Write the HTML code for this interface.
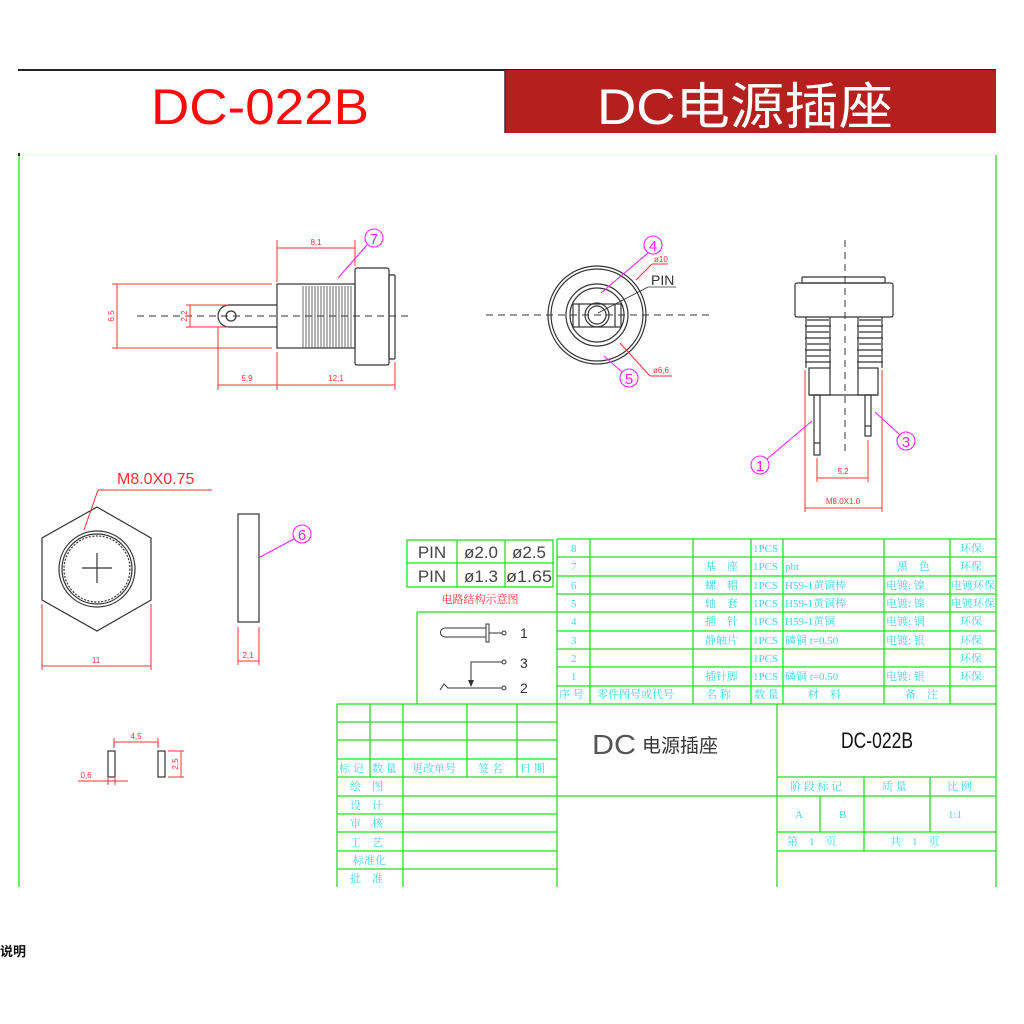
<!DOCTYPE html>
<html><head><meta charset="utf-8"><style>
html,body{margin:0;padding:0;background:#fff;}
svg{display:block}
.g{stroke:#22e022;stroke-width:1.3;fill:none}
.k{stroke:#333;stroke-width:1.2;fill:none}
.r{stroke:#ff3030;stroke-width:1;fill:none}
.m{stroke:#ff22ff;stroke-width:1.1;fill:none}
.c{fill:#3fd8e0;font-family:"Liberation Serif","Noto Serif CJK SC",serif;font-size:11px}
.rt{fill:#ff3030;font-family:"Liberation Sans",sans-serif;font-size:8px}
.mt{fill:#ff22ff;font-family:"Liberation Sans",sans-serif;font-size:15px}
</style></head><body>
<svg width="1024" height="1024" viewBox="0 0 1024 1024" xmlns="http://www.w3.org/2000/svg">
<!-- header -->
<line x1="18" y1="70" x2="996" y2="70" stroke="#222" stroke-width="2"/>
<rect x="505" y="70" width="491" height="63" fill="#b5201f"/>
<line x1="505" y1="70" x2="505" y2="133" stroke="#333" stroke-width="1.5"/>
<text x="260" y="124" text-anchor="middle" fill="#ff0a0a" font-family="Liberation Sans,sans-serif" font-size="50" textLength="218" lengthAdjust="spacingAndGlyphs">DC-022B</text>
<text x="745" y="124" text-anchor="middle" fill="#fff" font-family="Liberation Sans,'Noto Sans CJK SC',sans-serif" font-size="50" textLength="296" lengthAdjust="spacingAndGlyphs">DC电源插座</text>
<!-- frame -->
<line x1="19" y1="155" x2="996" y2="155" stroke="#dfffdf" stroke-width="1"/>
<line x1="19" y1="155" x2="19" y2="887" class="g"/>
<line x1="996" y1="155" x2="996" y2="887" class="g"/>
<rect x="18" y="153" width="2" height="3" fill="#222"/>

<!-- side view -->
<line x1="137" y1="316" x2="412" y2="316" stroke="#333" stroke-width="1" stroke-dasharray="7,5"/>
<path class="k" d="M277 305 H229 A11 11 0 0 0 229 327 H277"/>
<circle class="k" cx="231" cy="316" r="5"/>
<rect class="k" x="277" y="284" width="78" height="64"/>
<g stroke="#444" stroke-width="0.8">
<line x1="303" y1="286" x2="303" y2="348"/><line x1="306" y1="286" x2="306" y2="348"/><line x1="309" y1="286" x2="309" y2="348"/><line x1="312" y1="286" x2="312" y2="348"/><line x1="315" y1="286" x2="315" y2="348"/><line x1="318" y1="286" x2="318" y2="348"/><line x1="321" y1="286" x2="321" y2="348"/><line x1="324" y1="286" x2="324" y2="348"/><line x1="327" y1="286" x2="327" y2="348"/><line x1="330" y1="286" x2="330" y2="348"/><line x1="333" y1="286" x2="333" y2="348"/><line x1="336" y1="286" x2="336" y2="348"/><line x1="339" y1="286" x2="339" y2="348"/><line x1="342" y1="286" x2="342" y2="348"/><line x1="345" y1="286" x2="345" y2="348"/><line x1="348" y1="286" x2="348" y2="348"/><line x1="351" y1="286" x2="351" y2="348"/>
</g>
<rect class="k" x="355" y="268" width="34" height="97" rx="2"/>
<rect class="k" x="389" y="275" width="6" height="84" rx="1"/>
<g class="r">
<line x1="277" y1="240" x2="277" y2="282"/><line x1="355" y1="240" x2="355" y2="266"/><line x1="277" y1="248" x2="355" y2="248"/>
<line x1="112" y1="284" x2="272" y2="284"/><line x1="112" y1="348" x2="272" y2="348"/><line x1="117" y1="284" x2="117" y2="348"/>
<line x1="186" y1="305" x2="228" y2="305"/><line x1="186" y1="327" x2="228" y2="327"/><line x1="190" y1="305" x2="190" y2="327"/>
<line x1="218" y1="327" x2="218" y2="390"/><line x1="277" y1="352" x2="277" y2="390"/><line x1="395" y1="362" x2="395" y2="390"/>
<line x1="218" y1="385" x2="395" y2="385"/>
</g>
<text class="rt" x="316" y="245" text-anchor="middle">8,1</text>
<text class="rt" x="114" y="316" text-anchor="middle" transform="rotate(-90 114 316)">6,5</text>
<text class="rt" x="187" y="316" text-anchor="middle" transform="rotate(-90 187 316)">2,2</text>
<text class="rt" x="247" y="381" text-anchor="middle">5,9</text>
<text class="rt" x="336" y="381" text-anchor="middle">12,1</text>
<circle class="m" cx="374" cy="238" r="9"/><text class="mt" x="374" y="244" text-anchor="middle">7</text>
<line class="m" x1="367" y1="245" x2="338" y2="278"/>

<!-- front view -->
<line x1="486" y1="315" x2="710" y2="315" stroke="#333" stroke-width="1" stroke-dasharray="7,5"/>
<circle class="k" cx="597" cy="315" r="49"/><circle class="k" cx="597" cy="315" r="46"/>
<circle class="k" cx="597" cy="315" r="31"/><circle class="k" cx="597" cy="315" r="27"/>
<rect class="k" x="573" y="304" width="48" height="23"/>
<line class="k" x1="579" y1="304" x2="579" y2="327"/><line class="k" x1="615" y1="304" x2="615" y2="327"/>
<circle class="k" cx="597" cy="315" r="12"/><circle class="k" cx="597" cy="315" r="9"/>
<line x1="598" y1="313" x2="648" y2="287" stroke="#333" stroke-width="0.8"/><line x1="648" y1="287" x2="676" y2="287" stroke="#333" stroke-width="0.8"/>
<text x="651" y="285" font-family="Liberation Sans,sans-serif" font-size="14" fill="#333">PIN</text>
<line class="r" x1="636" y1="280" x2="652" y2="264"/><line class="r" x1="652" y1="264" x2="668" y2="264"/>
<text class="rt" x="654" y="262" font-size="7">ø10</text>
<line class="r" x1="620" y1="343" x2="650" y2="376"/><line class="r" x1="650" y1="376" x2="672" y2="376"/>
<text class="rt" x="653" y="373">ø6,6</text>
<circle class="m" cx="653" cy="245" r="9"/><text class="mt" x="653" y="251" text-anchor="middle">4</text>
<line class="m" x1="648" y1="253" x2="601" y2="293"/>
<circle class="m" cx="629" cy="378" r="9"/><text class="mt" x="629" y="384" text-anchor="middle">5</text>
<line class="m" x1="622" y1="372" x2="604" y2="356"/>

<!-- right view -->
<line x1="845" y1="240" x2="845" y2="455" stroke="#333" stroke-width="1" stroke-dasharray="7,5"/>
<rect class="k" x="802" y="277" width="83" height="6" rx="1"/>
<rect class="k" x="795" y="283" width="98" height="34" rx="2"/>
<g class="k" stroke-width="1.5">
<path d="M807 320 h22 M805 326 h26 M807 332 h22 M805 338 h26 M807 344 h22 M805 350 h26 M807 356 h22 M805 362 h26"/>
<path d="M859 320 h22 M857 326 h26 M859 332 h22 M857 338 h26 M859 344 h22 M857 350 h26 M859 356 h22 M857 362 h26"/>
</g>
<line class="k" x1="806" y1="317" x2="806" y2="368"/><line class="k" x1="830" y1="317" x2="830" y2="368"/>
<line class="k" x1="858" y1="317" x2="858" y2="368"/><line class="k" x1="882" y1="317" x2="882" y2="368"/>
<rect class="k" x="809" y="368" width="21" height="27"/><rect class="k" x="858" y="368" width="20" height="27"/>
<line class="k" x1="809" y1="395" x2="878" y2="395"/>
<rect class="k" x="814" y="395" width="6" height="60"/><line class="k" x1="814" y1="443" x2="820" y2="443"/>
<rect class="k" x="865" y="395" width="6" height="41"/><line class="k" x1="865" y1="426" x2="871" y2="426"/>
<g class="r">
<line x1="805" y1="370" x2="805" y2="512"/><line x1="882" y1="370" x2="882" y2="512"/><line x1="805" y1="508" x2="882" y2="508"/>
<line x1="817" y1="458" x2="817" y2="482"/><line x1="868" y1="440" x2="868" y2="482"/><line x1="817" y1="478" x2="868" y2="478"/>
</g>
<text class="rt" x="843" y="474" text-anchor="middle">5,2</text>
<text class="rt" x="843" y="504" text-anchor="middle" font-size="7">M8.0X1.0</text>
<circle class="m" cx="760" cy="465" r="9"/><text class="mt" x="760" y="471" text-anchor="middle">1</text>
<line class="m" x1="767" y1="459" x2="812" y2="421"/>
<circle class="m" cx="906" cy="441" r="9"/><text class="mt" x="906" y="447" text-anchor="middle">3</text>
<line class="m" x1="899" y1="434" x2="875" y2="412"/>

<!-- hex nut -->
<polygon class="k" points="97,507 151,538 151,600 97,631 42,600 42,538"/>
<circle class="k" cx="97" cy="569" r="38"/><circle class="k" cx="97" cy="569" r="35"/><circle class="k" cx="97" cy="569" r="33" stroke-dasharray="2,1.5"/>
<line class="k" x1="82" y1="568" x2="112" y2="568"/><line class="k" x1="97" y1="553" x2="97" y2="583"/>
<text x="117" y="484" fill="#ff3030" font-family="Liberation Sans,sans-serif" font-size="16">M8.0X0.75</text>
<polyline class="r" points="212,490 98,490 84,530"/>
<g class="r"><line x1="42" y1="604" x2="42" y2="670"/><line x1="151" y1="604" x2="151" y2="670"/><line x1="42" y1="666" x2="151" y2="666"/></g>
<text class="rt" x="96" y="663" text-anchor="middle">11</text>
<rect class="k" x="238" y="514" width="21" height="108"/>
<g class="r"><line x1="238" y1="627" x2="238" y2="665"/><line x1="259" y1="627" x2="259" y2="665"/><line x1="238" y1="661" x2="259" y2="661"/></g>
<text class="rt" x="248" y="658" text-anchor="middle">2,1</text>
<circle class="m" cx="302" cy="534" r="9"/><text class="mt" x="302" y="540" text-anchor="middle">6</text>
<line class="m" x1="294" y1="539" x2="260" y2="557"/>

<!-- pads -->
<rect class="k" x="108" y="751" width="7" height="26"/><rect class="k" x="158" y="751" width="7" height="26"/>
<g class="r"><line x1="114" y1="738" x2="114" y2="748"/><line x1="158" y1="738" x2="158" y2="748"/><line x1="114" y1="742" x2="158" y2="742"/>
<line x1="168" y1="751" x2="184" y2="751"/><line x1="168" y1="777" x2="184" y2="777"/><line x1="181" y1="751" x2="181" y2="777"/>
<line x1="78" y1="781" x2="128" y2="781"/><line x1="108" y1="778" x2="108" y2="785"/><line x1="115" y1="778" x2="115" y2="785"/></g>
<text class="rt" x="136" y="739" text-anchor="middle">4,5</text>
<text class="rt" x="178" y="764" text-anchor="middle" transform="rotate(-90 178 764)">2,5</text>
<text class="rt" x="86" y="778" text-anchor="middle">0,6</text>

<!-- PIN table -->
<g class="g"><rect x="407" y="540" width="146" height="47"/><line x1="407" y1="563" x2="553" y2="563"/><line x1="457" y1="540" x2="457" y2="587"/><line x1="505" y1="540" x2="505" y2="587"/></g>
<g font-family="Liberation Sans,sans-serif" font-size="17" fill="#444">
<text x="432" y="558" text-anchor="middle">PIN</text><text x="481" y="558" text-anchor="middle">ø2.0</text><text x="529" y="558" text-anchor="middle">ø2.5</text>
<text x="432" y="582" text-anchor="middle">PIN</text><text x="481" y="582" text-anchor="middle">ø1.3</text><text x="529" y="582" text-anchor="middle" textLength="46" lengthAdjust="spacingAndGlyphs">ø1.65</text>
</g>
<text x="480" y="603" text-anchor="middle" fill="#ff3030" font-family="'Noto Serif CJK SC',serif" font-size="11">电路结构示意图</text>
<!-- circuit -->
<g class="g"><line x1="417" y1="612" x2="557" y2="612"/><line x1="417" y1="612" x2="417" y2="704"/></g>
<g stroke="#333" stroke-width="1" fill="none">
<path d="M486 628 H445 A4.5 4.5 0 0 0 445 637 H486"/><rect x="486" y="624" width="3" height="18"/><line x1="489" y1="633" x2="502" y2="633"/><circle cx="504" cy="633" r="2"/>
<polyline points="502,662 471,662 471,682"/><circle cx="504" cy="662" r="2"/>
<path d="M440 690 L444 684 L448 688 L502 688"/><circle cx="504" cy="688" r="2"/>
</g>
<polygon points="468,680 474,680 471,687" fill="#333"/>
<g font-family="Liberation Sans,sans-serif" font-size="14" fill="#333"><text x="520" y="638">1</text><text x="520" y="668">3</text><text x="520" y="693">2</text></g>

<!-- parts table -->
<g class="g">
<line x1="557" y1="539" x2="996" y2="539"/><line x1="557" y1="557" x2="996" y2="557"/><line x1="557" y1="576" x2="996" y2="576"/><line x1="557" y1="594" x2="996" y2="594"/><line x1="557" y1="612" x2="996" y2="612"/><line x1="557" y1="631" x2="996" y2="631"/><line x1="557" y1="649" x2="996" y2="649"/><line x1="557" y1="667" x2="996" y2="667"/><line x1="557" y1="686" x2="996" y2="686"/><line x1="337" y1="704" x2="996" y2="704"/>
<line x1="557" y1="539" x2="557" y2="887"/><line x1="590" y1="539" x2="590" y2="704"/><line x1="693" y1="539" x2="693" y2="704"/><line x1="751" y1="539" x2="751" y2="704"/><line x1="783" y1="539" x2="783" y2="704"/><line x1="884" y1="539" x2="884" y2="704"/><line x1="950" y1="539" x2="950" y2="704"/>
</g>
<g class="c">
<text x="571" y="552">8</text><text x="571" y="570">7</text><text x="571" y="589">6</text><text x="571" y="607">5</text><text x="571" y="625">4</text><text x="571" y="644">3</text><text x="571" y="662">2</text><text x="571" y="680">1</text>
<text x="753" y="552">1PCS</text><text x="753" y="570">1PCS</text><text x="753" y="589">1PCS</text><text x="753" y="607">1PCS</text><text x="753" y="625">1PCS</text><text x="753" y="644">1PCS</text><text x="753" y="662">1PCS</text><text x="753" y="680">1PCS</text>
<text x="705" y="570">基　座</text><text x="705" y="589">螺　帽</text><text x="705" y="607">轴　套</text><text x="705" y="625">插　针</text><text x="705" y="644">静触片</text><text x="705" y="680">插针脚</text>
<text x="785" y="570">pbt</text><text x="785" y="589">H59-1黄铜棒</text><text x="785" y="607">H59-1黄铜棒</text><text x="785" y="625">H59-1黄铜</text><text x="785" y="644">磷铜 t=0.50</text><text x="785" y="680">磷铜 t=0.50</text>
<text x="897" y="570">黑　色</text><text x="886" y="589">电镀: 镍</text><text x="886" y="607">电镀: 镍</text><text x="886" y="625">电镀: 铜</text><text x="886" y="644">电镀: 银</text><text x="886" y="680">电镀: 银</text>
<text x="960" y="552">环保</text><text x="960" y="570">环保</text><text x="951" y="589">电镀环保</text><text x="951" y="607">电镀环保</text><text x="960" y="625">环保</text><text x="960" y="644">环保</text><text x="960" y="662">环保</text><text x="960" y="680">环保</text>
<text x="559" y="698">序 号</text><text x="597" y="698">零件图号或代号</text><text x="706" y="698">名 称</text><text x="754" y="698">数 量</text><text x="808" y="698">材　料</text><text x="905" y="698">备　注</text>
</g>

<!-- title block -->
<g class="g">
<line x1="337" y1="704" x2="337" y2="887"/>
<line x1="337" y1="722" x2="557" y2="722"/><line x1="337" y1="740" x2="557" y2="740"/><line x1="337" y1="759" x2="557" y2="759"/><line x1="337" y1="777" x2="557" y2="777"/><line x1="337" y1="796" x2="996" y2="796"/><line x1="337" y1="814" x2="557" y2="814"/><line x1="337" y1="832" x2="557" y2="832"/><line x1="337" y1="851" x2="557" y2="851"/><line x1="337" y1="869" x2="557" y2="869"/>
<line x1="370" y1="704" x2="370" y2="777"/><line x1="403" y1="704" x2="403" y2="887"/><line x1="467" y1="704" x2="467" y2="777"/><line x1="517" y1="704" x2="517" y2="777"/>
<line x1="777" y1="704" x2="777" y2="887"/><line x1="777" y1="777" x2="996" y2="777"/><line x1="777" y1="832" x2="996" y2="832"/><line x1="777" y1="851" x2="996" y2="851"/>
<line x1="820" y1="796" x2="820" y2="832"/><line x1="864" y1="777" x2="864" y2="851"/><line x1="930" y1="777" x2="930" y2="832"/>
</g>
<g class="c">
<text x="339" y="772">标 记</text><text x="372" y="772">数 量</text><text x="412" y="772">更改单号</text><text x="478" y="772">签 名</text><text x="520" y="772">日 期</text>
<text x="350" y="790">绘　图</text><text x="350" y="809">设　计</text><text x="350" y="827">审　核</text><text x="350" y="846">工　艺</text><text x="353" y="864">标准化</text><text x="350" y="882">批　准</text>
<text x="790" y="790">阶 段 标 记</text><text x="882" y="790">质 量</text><text x="947" y="790">比 例</text>
<text x="795" y="818">A</text><text x="839" y="818">B</text><text x="948" y="818">1:1</text>
<text x="787" y="845">第　1　页</text><text x="890" y="845">共　1　页</text>
</g>
<text x="592" y="754" fill="#555" font-family="Liberation Sans,sans-serif" font-size="28" font-weight="100" textLength="44" lengthAdjust="spacingAndGlyphs">DC</text>
<text x="642" y="752" fill="#333" font-family="'Noto Sans CJK SC',sans-serif" font-size="19">电源插座</text>
<text x="877" y="748" text-anchor="middle" fill="#111" font-family="Liberation Sans,sans-serif" font-size="22" textLength="72" lengthAdjust="spacingAndGlyphs">DC-022B</text>

<text x="0" y="956" fill="#111" font-family="'Noto Sans CJK SC',sans-serif" font-size="13" font-weight="bold">说明</text>
</svg>
</body></html>
